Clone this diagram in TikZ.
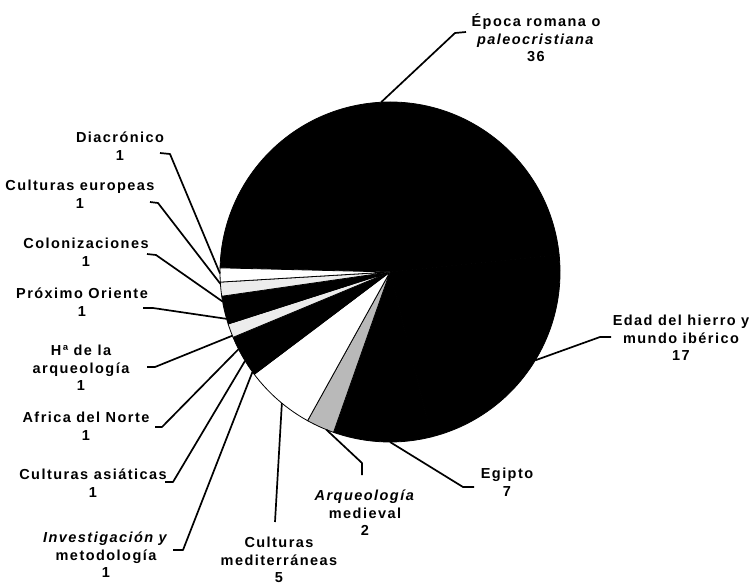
\documentclass[tikz,border=0pt]{standalone}
\usepackage{fontspec}
\setmainfont{Liberation Sans}[LetterSpace=10]
\usepackage{tikz}

\begin{document}
\begin{tikzpicture}[x=1pt, y=-1pt,
                    slice/.style={draw=black, line width=0.8pt, line join=round},
                    leader/.style={line width=1.7pt, line join=round},
                    lbl/.style={align=center, inner sep=0pt, font=\fontsize{14.5}{17.5}\selectfont\bfseries}]
  \useasboundingbox (0,0) rectangle (752,588);

  \coordinate (c) at (390,272);

  % slices (angles negated: y runs downwards)
  \filldraw[slice, fill=black]   (c) -- ++(-5.8:170)   arc[start angle=-5.8,   end angle=-178.6, radius=170] -- cycle;
  \filldraw[slice, fill=black]   (c) -- ++(75.8:170)   arc[start angle=75.8,   end angle=-5.8,   radius=170] -- cycle;
  \filldraw[slice, fill=black]   (c) -- ++(109.4:170)  arc[start angle=109.4,  end angle=75.8,   radius=170] -- cycle;
  \filldraw[slice, fill=gray!55] (c) -- ++(119:170)    arc[start angle=119,    end angle=109.4,  radius=170] -- cycle;
  \filldraw[slice, fill=white]   (c) -- ++(143:170)    arc[start angle=143,    end angle=119,    radius=170] -- cycle;
  \filldraw[slice, fill=black]   (c) -- ++(157.4:170)  arc[start angle=157.4,  end angle=143,    radius=170] -- cycle;
  \filldraw[slice, fill=gray!15] (c) -- ++(162.2:170)  arc[start angle=162.2,  end angle=157.4,  radius=170] -- cycle;
  \filldraw[slice, fill=black]   (c) -- ++(171.8:170)  arc[start angle=171.8,  end angle=162.2,  radius=170] -- cycle;
  \filldraw[slice, fill=gray!15] (c) -- ++(176.6:170)  arc[start angle=176.6,  end angle=171.8,  radius=170] -- cycle;
  \filldraw[slice, fill=white]   (c) -- ++(181.4:170)  arc[start angle=181.4,  end angle=176.6,  radius=170] -- cycle;

  % labels
  \node[lbl] (epoca)    at (536,38)  {Época romana o\\\textit{paleocristiana}\\36};
  \node[lbl] (edad)     at (681,338) {Edad del hierro y\\mundo ibérico\\17};
  \node[lbl] (egipto)   at (507,482) {Egipto\\7};
  \node[lbl] (arqmed)   at (365,513) {\textit{Arqueología}\\medieval\\2};
  \node[lbl] (cultmed)  at (279,560) {Culturas\\mediterráneas\\5};
  \node[lbl] (diacr)    at (120,146) {Diacrónico\\1};
  \node[lbl] (europeas) at (80,194)  {Culturas europeas\\1};
  \node[lbl] (coloniz)  at (86,252)  {Colonizaciones\\1};
  \node[lbl] (proximo)  at (82,302)  {Próximo Oriente\\1};
  \node[lbl] (histarq)  at (81,368)  {Hª de la\\arqueología\\1};
  \node[lbl] (africa)   at (86,426)  {Africa del Norte\\1};
  \node[lbl] (asiat)    at (93,483)  {Culturas asiáticas\\1};
  \node[lbl] (invest)   at (106,555) {\textit{Investigación y}\\metodología\\1};

  % points on the rim
  \path (c) ++(-93:170)   coordinate (r-epoca);
  \path (c) ++(31.3:170)  coordinate (r-edad);
  \path (c) ++(90:170)    coordinate (r-egipto);
  \path (c) ++(112:170)   coordinate (r-arqmed);
  \path (c) ++(129.5:170) coordinate (r-cultmed);
  \path (c) ++(179.5:170) coordinate (r-diacr);
  \path (c) ++(176:170)   coordinate (r-europeas);
  \path (c) ++(170:170)   coordinate (r-coloniz);
  \path (c) ++(164:170)   coordinate (r-proximo);
  \path (c) ++(158:170)   coordinate (r-histarq);
  \path (c) ++(153:170)   coordinate (r-africa);
  \path (c) ++(148.5:170) coordinate (r-asiat);
  \path (c) ++(144:170)   coordinate (r-invest);

  % leaders
  \draw[leader] (r-epoca) -- (455,33) -- (466,32);
  \draw[leader] (r-edad) -- (600,337) -- (611,337);
  \draw[leader] (r-egipto) -- (463,487) -- (474,487);
  \draw[leader] (r-arqmed) -- (362,463) -- (362,475);
  \draw[leader] (r-cultmed) -- (275,522);
  \draw[leader] (r-diacr) -- (170,154) -- (160,153);
  \draw[leader] (r-europeas) -- (158,203) -- (150,202);
  \draw[leader] (r-coloniz) -- (156,255) -- (147,254);
  \draw[leader] (r-proximo) -- (153,308) -- (143,308);
  \draw[leader] (r-histarq) -- (155,367) -- (147,367);
  \draw[leader] (r-africa) -- (162,427) -- (155,427);
  \draw[leader] (r-asiat) -- (173,482) -- (165,482);
  \draw[leader] (r-invest) -- (183,550) -- (173,550);
\end{tikzpicture}
\end{document}
